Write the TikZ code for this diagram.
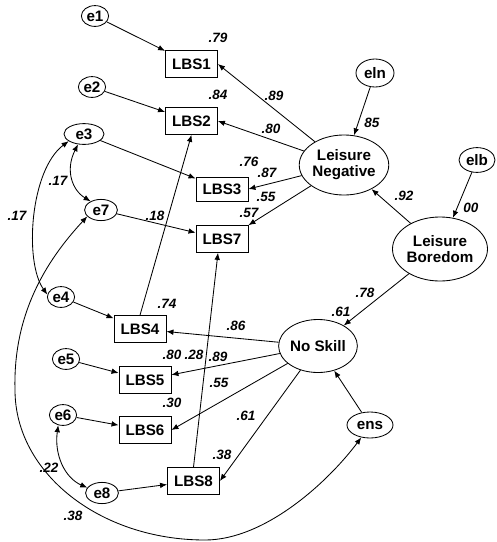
\documentclass[tikz,border=0pt]{standalone}
\usepackage{fontspec}
\setmainfont{Liberation Sans}
\usepackage{tikz}
\usetikzlibrary{shapes.geometric,arrows.meta}

\begin{document}
\begin{tikzpicture}[
  x=0.025cm, y=-0.025cm,
  box/.style={rectangle, draw=black, line width=0.6pt, minimum width=1.3cm,
              minimum height=0.67cm, inner sep=0pt,
              font=\fontsize{10.8}{11.4}\selectfont\bfseries},
  err/.style={ellipse, draw=black, line width=0.6pt, minimum width=0.68cm,
              minimum height=0.52cm, inner sep=0pt,
              font=\fontsize{10.8}{11.4}\selectfont\bfseries},
  lat/.style={ellipse, draw=black, line width=0.6pt, inner sep=0pt, align=center,
              font=\fontsize{10.8}{11.4}\selectfont\bfseries},
  val/.style={inner sep=0pt, font=\fontsize{9.6}{10}\selectfont\bfseries\itshape},
  arr/.style={-{Latex[length=5pt,width=4pt]}, line width=0.6pt},
  cov/.style={{Latex[length=5pt,width=4pt]}-{Latex[length=5pt,width=4pt]}, line width=0.6pt}
]
\useasboundingbox (0,0) rectangle (496,542);

% indicators
\node[box] (LBS1) at (191.5,64)  {LBS1};
\node[box] (LBS2) at (191.5,121) {LBS2};
\node[box, minimum height=0.6cm] (LBS3) at (222,189) {LBS3};
\node[box] (LBS7) at (222,239)   {LBS7};
\node[box] (LBS4) at (140,329)   {LBS4};
\node[box] (LBS5) at (145,380)   {LBS5};
\node[box] (LBS6) at (145,430)   {LBS6};
\node[box] (LBS8) at (193.5,481) {LBS8};

% errors
\node[err] (e1) at (95,16)  {e1};
\node[err] (e2) at (92,87)  {e2};
\node[err, minimum width=1cm] (e3) at (84,134) {e3};
\node[err, minimum width=0.82cm, minimum height=0.53cm] (e7) at (101,210) {e7};
\node[err] (e4) at (61,297) {e4};
\node[err] (e5) at (66,359) {e5};
\node[err] (e6) at (63,415) {e6};
\node[err, minimum width=0.82cm, minimum height=0.53cm] (e8) at (102,493) {e8};
\node[err, minimum width=0.95cm, minimum height=0.7cm] (eln) at (375,73) {eln};
\node[err, minimum width=0.9cm, minimum height=0.62cm] (elb) at (477,160) {elb};
\node[err, minimum width=1.15cm, minimum height=0.65cm] (ens) at (370,425) {ens};

% latent factors
\node[lat, minimum width=2.15cm, minimum height=1.5cm] (LN) at (344,165) {Leisure\\Negative};
\node[lat, minimum width=2.375cm, minimum height=1.6cm] (LB) at (440,249) {Leisure\\Boredom};
\node[lat, minimum width=1.8cm, minimum height=1.325cm] (NS) at (318,346) {No Skill};

% error paths
\draw[arr] (e1) -- (LBS1);
\draw[arr] (e2) -- (LBS2);
\draw[arr] (e3) -- (LBS3);
\draw[arr] (e7) -- (LBS7);
\draw[arr] (e4) -- (LBS4);
\draw[arr] (e5) -- (LBS5);
\draw[arr] (e6) -- (LBS6);
\draw[arr] (e8) -- (LBS8);
\draw[arr] (eln) -- (LN);
\draw[arr] (elb) -- (LB);
\draw[arr] (ens) -- (NS);

% structural paths
\draw[arr] (LB) -- (LN);
\draw[arr] (LB) -- (NS);
\draw[arr] (LN) -- (LBS1.east);
\draw[arr] (LN) -- (LBS2.east);
\draw[arr] (LN) -- (LBS3.east);
\draw[arr] (LN) -- (LBS7.north east);
\draw[arr] (NS) -- (LBS4);
\draw[arr] (NS) -- (LBS5);
\draw[arr] (NS) -- (LBS6.east);
\draw[arr] (NS) -- (LBS8.east);
\draw[arr] (LBS4.north) -- (LBS2.south);
\draw[arr] (LBS8.north) -- ([xshift=-0.1cm]LBS7.south);

% covariances
\draw[cov] (e3.240) .. controls (65,170) and (72,190) .. (e7.140);
\draw[cov] (e3.205) .. controls (30,170) and (24,262) .. (e4.170);
\draw[cov] (e6.245) .. controls (54,455) and (65,478) .. (e8.160);
\draw[cov] (e7.205) .. controls (45,262) and (13,315) .. (15,390)
  .. controls (15,473) and (100,540) .. (205,540)
  .. controls (265,540) and (328,482) .. (ens.235);

% estimates
\node[val] (v79) at (218,38)  {.79};
\node[val] (v84) at (218,95)  {.84};
\node[val] (v89a) at (274,96) {.89};
\node[val] (v80a) at (271,129) {.80};
\node[val] (v85) at (372,123) {85};
\node[val] (v76) at (249,162) {.76};
\node[val] (v87) at (267,173) {.87};
\node[val] (v55a) at (266,197) {.55};
\node[val] (v57) at (249,213) {.57};
\node[val] (v92) at (404,196) {.92};
\node[val] (v00) at (471,208) {00};
\node[val] (v78) at (365,293) {.78};
\node[val] (v61a) at (341,312) {.61};
\node[val] (v18) at (155,216) {.18};
\node[val] (v17a) at (17,216) {.17};
\node[val] (v17b) at (58,181) {.17};
\node[val] (v74) at (167,304) {.74};
\node[val] (v86) at (236,326) {.86};
\node[val] (v80b) at (172,355) {.80};
\node[val] (v28) at (194,355) {.28};
\node[val] (v89b) at (218,357) {.89};
\node[val] (v55b) at (219,383) {.55};
\node[val] (v30) at (172,403) {.30};
\node[val] (v61b) at (246,416) {.61};
\node[val] (v38a) at (222,455) {.38};
\node[val] (v22) at (49,468) {.22};
\node[val] (v38b) at (73,516) {.38};
\end{tikzpicture}
\end{document}
